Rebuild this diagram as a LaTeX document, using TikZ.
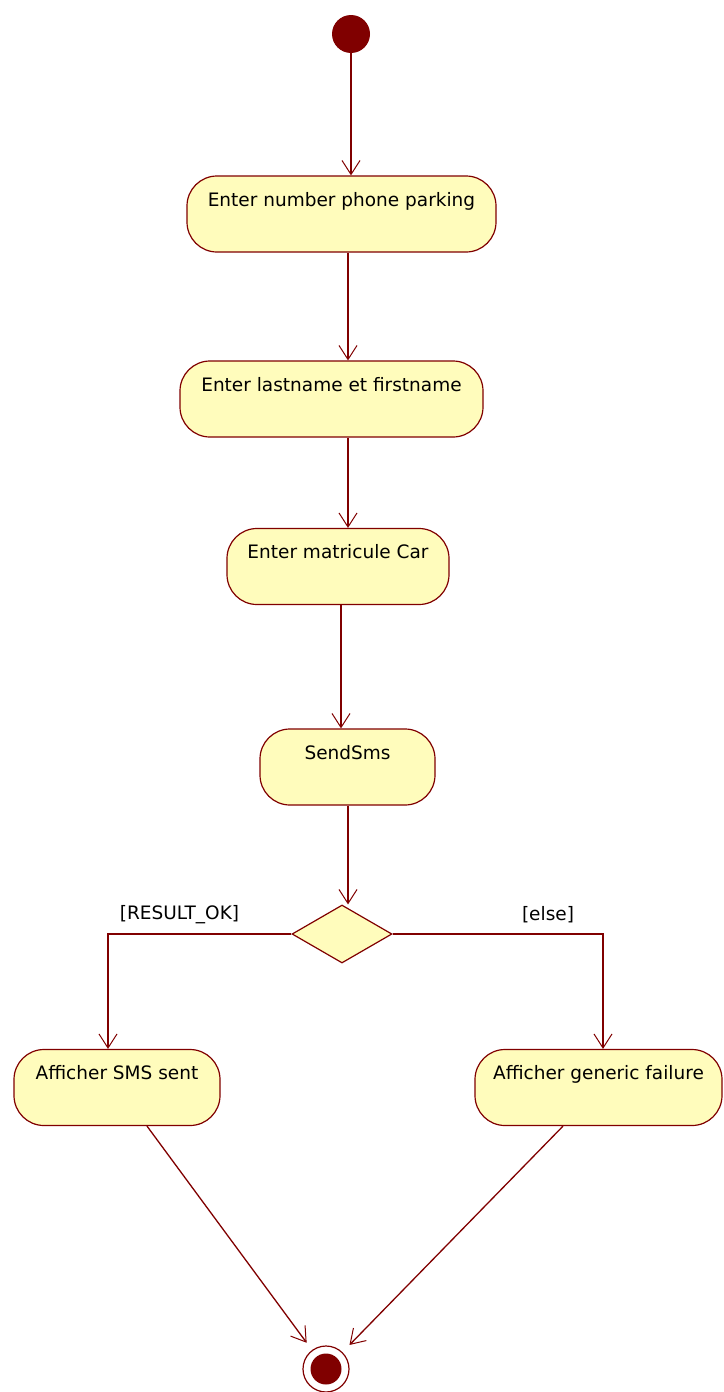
\documentclass[tikz,border=0pt]{standalone}
\usepackage{fontspec}
\setmainfont{DejaVu Sans}
\usetikzlibrary{shapes.geometric,arrows.meta}
\definecolor{umlline}{RGB}{128,0,0}
\definecolor{umlfill}{RGB}{255,252,188}
\begin{document}
\begin{tikzpicture}[x=1pt,y=-1pt,
  font=\fontsize{18.5}{22}\selectfont,
  act/.style={draw=umlline, fill=umlfill, line width=1.2pt, rounded corners=30pt,
    inner xsep=0pt, inner ysep=0pt, text height=30pt, text depth=46pt, align=center},
  decision/.style={diamond, draw=umlline, fill=umlfill, line width=1.2pt,
    minimum width=100pt, minimum height=58pt, inner sep=0pt},
  startdot/.style={circle, fill=umlline, minimum size=38pt, inner sep=0pt},
  endring/.style={circle, draw=umlline, line width=1.2pt, fill=white, minimum size=46pt, inner sep=0pt},
  enddot/.style={circle, fill=umlline, minimum size=31pt, inner sep=0pt},
  flow/.style={draw=umlline, line width=1.3pt,
    -{Straight Barb[length=14pt,width=18pt,line width=1pt]}},
  guard/.style={inner sep=0pt}]
\useasboundingbox (0,0) rectangle (723,1392);

% activity nodes
\node[startdot] (s) at (351,34) {};
\node[act, minimum width=309pt] (b1) at (341.5,214) {Enter number phone parking};
\node[act, minimum width=303pt] (b2) at (331.5,399) {Enter lastname et firstname};
\node[act, minimum width=222pt] (b3) at (338,566.5) {Enter matricule Car};
\node[act, minimum width=175pt] (b4) at (347.5,767) {SendSms};
\node[decision] (d) at (342,934) {};
\node[act, minimum width=206pt] (b5) at (117,1087.5) {Afficher SMS sent};
\node[act, minimum width=247pt] (b6) at (598.5,1087.5) {Afficher generic failure};
\node[endring] (e) at (326,1369) {};
\node[enddot] (ein) at (e) {};

% guards
\node[guard] (ok) at (179.5,915) {[RESULT\_OK]};
\node[guard] (el) at (548,915) {[else]};

% main flow
\draw[flow] (s) -- (s |- b1.north);
\coordinate (o1) at ([xshift=6.5pt]b1.south);
\draw[flow] (o1) -- (o1 |- b2.north);
\coordinate (o2) at ([xshift=16.5pt]b2.south);
\draw[flow] (o2) -- (o2 |- b3.north);
\coordinate (o3) at ([xshift=3pt]b3.south);
\draw[flow] (o3) -- (o3 |- b4.north);
\coordinate (o4) at ([xshift=0.5pt]b4.south);
\draw[flow] (o4) -- (o4 |- d.north);

% branches
\coordinate (l5) at ([xshift=-9pt]b5.north);
\draw[flow] (d.west) -| (l5);
\coordinate (r6) at ([xshift=4.5pt]b6.north);
\draw[flow] (d.east) -| (r6);

% to final node
\coordinate (f5) at ([xshift=30pt]b5.south);
\draw[flow, shorten >=9pt] (f5) -- (e);
\coordinate (f6) at ([xshift=-35.5pt]b6.south);
\draw[flow, shorten >=10pt] (f6) -- (e);
\end{tikzpicture}
\end{document}
